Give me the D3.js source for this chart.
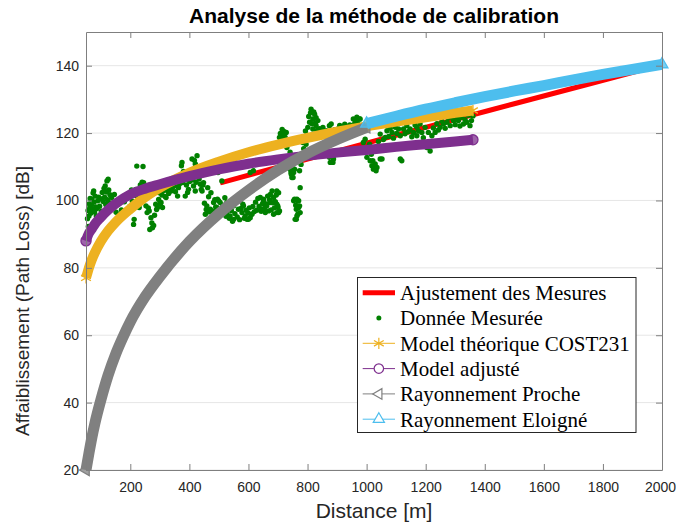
<!DOCTYPE html>
<html>
<head>
<meta charset="utf-8">
<script src="https://cdn.jsdelivr.net/npm/d3@7"></script>
<style>
  body { margin: 0; background: #fff; }
  svg { display: block; }
</style>
</head>
<body>
<svg id="chart" width="676" height="526"></svg>
<script>
// Axis ticks
const xTicks = [200, 400, 600, 800, 1000, 1200, 1400, 1600, 1800, 2000];
const yTicks = [20, 40, 60, 80, 100, 120, 140];

// Linear fit of the measurements
const fitDist = [504, 750, 1000, 1250, 1500, 1750, 2000];
const fitLoss = [105.2, 111.1, 117.0, 122.9, 128.7, 134.5, 140.3];

// COST231 theoretical model
const costDist = [50, 55, 60, 70, 80, 100, 125, 150, 200, 250, 300, 400, 500, 600, 700, 800, 900, 1000, 1100, 1200, 1300, 1360];
const costLoss = [77.0, 78.5, 80.0, 82.5, 84.5, 87.8, 91.0, 93.5, 97.5, 101.0, 103.8, 108.2, 111.5, 114.3, 116.6, 118.6, 120.4, 122.0, 123.4, 124.7, 126.0, 126.7];

// Adjusted model
const adjDist = [50, 55, 60, 70, 80, 100, 125, 150, 200, 250, 300, 400, 500, 600, 700, 800, 900, 1000, 1100, 1200, 1300, 1360];
const adjLoss = [88.0, 89.3, 90.3, 91.6, 93.0, 95.0, 97.2, 99.0, 101.8, 103.5, 104.8, 107.2, 109.2, 110.9, 112.2, 113.3, 114.2, 115.0, 115.9, 116.7, 117.5, 118.0];

// Near-field radiation
const procheDist = [50, 60, 70, 80, 100, 125, 150, 175, 200, 250, 300, 400, 500, 600, 700, 800, 900, 1000];
const procheLoss = [20.0, 25.0, 29.7, 33.8, 40.7, 48.2, 54.3, 59.4, 64.0, 71.4, 77.4, 87.8, 96.1, 103.0, 109.0, 114.0, 118.1, 121.7];

// Far-field radiation
const eloigneDist = [1000, 1100, 1200, 1300, 1400, 1500, 1600, 1700, 1800, 1900, 2000];
const eloigneLoss = [122.8, 125.0, 127.1, 129.0, 130.8, 132.5, 134.1, 135.8, 137.4, 138.9, 140.4];

// Measured path loss [distance m, loss dB]
const mesures = [
  [55,94.6],[57,97.0],[58,92.3],[60,95.4],[61,99.0],[63,97.9],[64,100.6],[66,96.2],[68,98.6],[70,100.4],
  [72,97.3],[74,102.2],[76,102.8],[77,99.5],[79,96.6],[81,101.3],[83,98.1],[85,95.4],[87,97.6],[90,99.9],
  [93,101.0],[96,98.3],[99,100.5],[102,96.8],[105,102.4],[108,99.7],[111,103.6],[113,101.0],[115,104.3],[117,98.8],
  [119,102.5],[121,105.8],[123,100.2],[125,106.3],[127,103.1],[129,99.3],[131,101.7],[134,98.6],[137,100.9],[140,97.6],
  [143,99.4],[146,101.8],
  [152,96.5],[160,94.8],[170,97.2],[180,99.6],[190,100.8],[198,98.2],[204,103.1],[207,99.8],[211,92.9],[213,94.4],
  [216,101.6],[219,103.3],[222,110.2],[223,101.3],[227,99.2],[230,97.9],[234,104.6],[238,102.4],[240,105.4],[243,110.1],
  [245,105.3],[249,100.7],[253,98.4],[257,96.4],[261,97.8],[264,96.9],[266,91.4],[270,94.9],[273,93.3],[275,91.9],
  [279,92.6],[282,95.6],[286,98.9],[289,97.3],
  [292,97.9],[296,100.3],[298,102.3],[302,99.1],[304,99.4],[307,101.6],[309,97.9],[312,102.9],[315,103.3],[318,101.2],
  [321,100.9],[324,103.0],[326,103.8],[330,102.1],[334,104.7],[338,102.8],[342,103.6],[346,105.6],[349,104.3],[353,102.6],
  [356,105.2],[360,101.3],[363,103.8],[366,104.8],[370,106.2],[373,110.3],[375,111.3],[377,105.3],[380,108.6],[383,106.7],
  [386,106.3],[386,101.3],[390,104.6],[394,102.4],[397,103.3],[401,105.6],[405,107.9],[409,112.3],[412,106.1],[414,104.3],
  [417,111.9],[420,102.8],[420,110.8],[423,105.4],[426,113.3],[430,108.7],[433,106.4],[437,104.8],[440,103.3],[443,102.8],
  [446,104.6],[448,105.3],
  [451,99.2],[454,95.9],[457,97.3],[459,98.4],[462,103.8],[465,101.1],[468,96.6],[471,97.4],[473,102.3],[476,94.4],
  [479,96.9],[482,99.4],[482,95.4],[486,100.2],[489,98.1],[493,97.9],[495,100.4],[497,108.3],[499,99.9],[504,99.4],
  [507,96.7],[510,105.8],[513,98.6],[516,97.4],[520,100.8],[524,95.3],[527,96.4],[527,99.4],[531,97.8],[535,94.7],
  [538,95.4],[542,97.0],[546,93.8],[550,94.4],[550,98.4],[554,96.1],[558,99.5],[562,95.1],[566,97.4],[570,94.3],
  [572,99.9],[575,97.6],[578,96.4],[581,98.9],[583,98.4],[586,94.7],[589,95.4],[592,97.1],[595,94.4],[598,96.3],
  [600,94.4],[603,97.8],[606,94.9],[606,108.3],[609,95.9],[612,95.9],[615,98.2],[617,108.8],[620,96.7],
  [624,99.5],[628,97.1],[632,100.6],[636,98.3],[640,100.9],[643,96.8],[645,97.4],[648,99.1],[651,99.9],[651,100.4],
  [654,97.6],[657,96.4],[660,99.0],[662,98.4],[665,101.3],[668,96.9],[671,100.2],[674,99.4],[674,101.8],[677,97.2],
  [680,102.8],[682,99.3],[685,100.9],[685,95.9],[688,97.8],[691,99.6],[694,101.6],[696,102.8],[696,98.9],[696,96.4],
  [699,98.4],[700,97.9],[702,96.4],[702,102.3],[705,96.9],[705,118.7],[708,119.9],[711,118.3],[714,121.1],[717,119.2],
  [720,120.5],[724,118.8],[728,120.2],[730,115.7],[735,117.4],
  [741,109.3],[741,114.3],[744,108.3],[745,107.8],[747,106.8],[749,110.6],[751,106.8],[753,108.3],[753,99.9],[756,109.3],
  [756,100.4],[758,94.4],[760,98.6],[762,97.4],[762,94.4],[764,95.4],[764,100.4],[767,99.9],[767,95.9],[770,97.9],
  [770,99.9],[773,98.4],[773,108.8],[775,96.4],[775,103.8],[778,110.7],[781,113.2],[784,117.2],[787,115.4],[790,118.7],
  [793,120.6],[795,116.7],[798,119.4],[801,121.7],[804,124.9],[807,123.2],[810,126.0],[812,127.1],[815,122.8],[818,124.2],
  [818,121.2],[821,126.3],[824,125.6],[827,123.0],[829,124.6],[829,122.2],[832,120.8],[835,123.7],[840,121.3],[846,119.8],
  [852,121.7],[857,120.1],[863,120.7],[863,113.7],[868,119.5],[874,122.2],[874,112.8],[877,111.3],[880,122.7],[883,120.3],
  [886,119.7],[886,111.3],[888,112.3],[892,121.0],[897,120.4],
  [903,121.2],[909,122.3],[914,120.5],[920,121.7],[926,122.6],[931,121.0],[937,120.7],[943,122.4],[948,121.3],[954,121.7],
  [955,124.2],[960,122.9],[965,123.7],[967,123.2],[967,124.7],[971,122.6],[976,124.2],[978,124.2],[983,121.6],[989,117.2],
  [995,118.2],
  [1001,112.8],[1004,115.3],[1010,116.7],[1012,111.8],[1016,113.7],[1018,110.3],[1021,111.8],[1023,109.3],[1027,110.3],[1029,110.8],
  [1032,108.8],[1035,109.8],[1040,117.5],[1046,119.7],[1046,112.3],[1052,112.3],[1057,118.1],[1063,118.7],[1069,120.7],[1075,119.0],
  [1080,121.4],[1086,120.2],[1091,118.5],[1097,121.7],[1102,119.9],[1108,121.2],[1114,119.2],[1114,112.3],[1119,111.8],[1125,121.2],
  [1130,119.8],[1136,122.2],[1141,120.4],[1147,121.2],[1153,118.9],[1159,120.2],[1164,122.4],[1170,121.7],[1170,119.2],[1176,120.6],
  [1181,122.7],[1187,120.2],[1192,118.6],[1198,121.7],[1204,115.7],[1209,120.2],[1215,114.7],[1221,119.2],[1226,121.5],[1232,120.2],
  [1238,122.8],[1243,120.9],[1249,121.7],[1255,123.5],[1260,122.7],[1266,121.4],[1272,123.2],[1277,124.5],[1283,122.2],[1289,124.8],
  [1294,123.7],[1300,122.5],[1305,124.9],[1311,123.7],[1316,122.1],[1322,124.7],[1328,122.7],[1333,124.0],[1339,123.2],[1344,125.3],
  [1350,122.2],[1355,123.7],[1360,125.1]
];

const legendLabels = [
  "Ajustement des Mesures",
  "Donnée Mesurée",
  "Model théorique COST231",
  "Model adjusté",
  "Rayonnement Proche",
  "Rayonnement Eloigné"
];

const colors = {
  fit: "#ff0000",
  data: "#008000",
  cost: "#edb120",
  adj: "#7e2f8e",
  proche: "#808080",
  eloigne: "#4dbeee"
};

const svg = d3.select("#chart");
const plotLeft = 86, plotRight = 662, plotTop = 32, plotBottom = 470;

const x = d3.scaleLinear().domain([50, 2000]).range([plotLeft, plotRight]);
const y = d3.scaleLinear().domain([20, 150]).range([plotBottom, plotTop]);

const axisColor = "#7f7f7f";
const labelColor = "#262626";
const sans = "'Liberation Sans', Arial, sans-serif";
const serif = "'Liberation Serif', 'Times New Roman', serif";

// Horizontal grid
svg.append("g")
  .selectAll("line")
  .data(yTicks)
  .join("line")
  .attr("x1", plotLeft).attr("x2", plotRight)
  .attr("y1", d => y(d)).attr("y2", d => y(d))
  .attr("stroke", "#e6e6e6").attr("stroke-width", 1);

// Series
const line = d3.line()
  .x(d => x(d[0]))
  .y(d => y(d[1]))
  .curve(d3.curveMonotoneX);

const fitPts = d3.zip(fitDist, fitLoss);
const costPts = d3.zip(costDist, costLoss);
const adjPts = d3.zip(adjDist, adjLoss);
const prochePts = d3.zip(procheDist, procheLoss);
const eloignePts = d3.zip(eloigneDist, eloigneLoss);

const plot = svg.append("g");

plot.append("path").datum(fitPts)
  .attr("d", line).attr("fill", "none")
  .attr("stroke", colors.fit).attr("stroke-width", 5);

plot.append("g").selectAll("circle")
  .data(mesures).join("circle")
  .attr("cx", d => x(d[0])).attr("cy", d => y(d[1]))
  .attr("r", 2.7).attr("fill", colors.data);

// Dense marker band: thick stroke along the curve, end markers at both ends
function band(pts, color, width, symbolType, symbolSize, rotate) {
  const g = plot.append("g");
  g.append("path").datum(pts)
    .attr("d", line).attr("fill", "none")
    .attr("stroke", color).attr("stroke-width", width)
    .attr("stroke-linejoin", "round");
  const sym = d3.symbol().type(symbolType).size(symbolSize);
  const ends = [pts[0], pts[pts.length - 1]];
  g.selectAll("path.m").data(ends).join("path")
    .attr("class", "m")
    .attr("d", sym)
    .attr("transform", d => `translate(${x(d[0])},${y(d[1])}) rotate(${rotate})`)
    .attr("fill", color).attr("fill-opacity", 0.75)
    .attr("stroke", color).attr("stroke-width", 1.3);
}

band(costPts, colors.cost, 10, d3.symbolAsterisk, 90, 0);
band(adjPts, colors.adj, 10, d3.symbolCircle, 80, 0);
band(prochePts, colors.proche, 11, d3.symbolTriangle2, 90, -90);
band(eloignePts, colors.eloigne, 11, d3.symbolTriangle2, 100, 0);

// Axes (box with inward ticks)
function styleAxis(g) {
  g.selectAll(".domain").attr("stroke", axisColor);
  g.selectAll(".tick line").attr("stroke", axisColor);
  g.selectAll(".tick text").attr("fill", labelColor)
    .style("font-family", sans).style("font-size", "14px");
}

const fmt = d3.format("d");

const xAxisG = svg.append("g").attr("transform", `translate(0,${plotBottom})`)
  .call(d3.axisBottom(x).tickValues(xTicks).tickFormat(fmt).tickSizeInner(-6).tickSizeOuter(0).tickPadding(12))
  .call(styleAxis);
// keep the last label inside the canvas
xAxisG.selectAll(".tick text").filter(d => d === 2000).attr("dx", -2);

svg.append("g").attr("transform", `translate(0,${plotTop})`)
  .call(d3.axisTop(x).tickValues(xTicks).tickSizeInner(-6).tickSizeOuter(0).tickFormat(""))
  .call(styleAxis);
svg.append("g").attr("transform", `translate(${plotLeft},0)`)
  .call(d3.axisLeft(y).tickValues(yTicks).tickFormat(fmt).tickSizeInner(-6).tickSizeOuter(0).tickPadding(7))
  .call(styleAxis);
svg.append("g").attr("transform", `translate(${plotRight},0)`)
  .call(d3.axisRight(y).tickValues(yTicks).tickSizeInner(-6).tickSizeOuter(0).tickFormat(""))
  .call(styleAxis);

// Titles
svg.append("text")
  .attr("x", (plotLeft + plotRight) / 2).attr("y", 23)
  .attr("text-anchor", "middle")
  .style("font-family", sans).style("font-size", "21px").style("font-weight", "bold")
  .attr("fill", "#000")
  .text("Analyse de la méthode de calibration");

svg.append("text")
  .attr("x", (plotLeft + plotRight) / 2).attr("y", 518)
  .attr("text-anchor", "middle")
  .style("font-family", sans).style("font-size", "21px")
  .attr("fill", labelColor)
  .text("Distance [m]");

svg.append("text")
  .attr("transform", "translate(29,301) rotate(-90)")
  .attr("text-anchor", "middle")
  .style("font-family", sans).style("font-size", "19px")
  .attr("fill", labelColor)
  .text("Affaiblissement (Path Loss) [dB]");

// Legend
const lg = svg.append("g");
lg.append("rect")
  .attr("x", 357.5).attr("y", 277.5).attr("width", 278.5).attr("height", 155)
  .attr("fill", "#fff").attr("stroke", "#262626").attr("stroke-width", 1);

const rowY = i => 292.7 + i * 25.3;
const sx1 = 362.7, sx2 = 395, sxm = (sx1 + sx2) / 2;

legendLabels.forEach((label, i) => {
  lg.append("text")
    .attr("x", 400).attr("y", rowY(i)).attr("dy", "0.35em")
    .style("font-family", serif).style("font-size", "21px")
    .attr("fill", "#000")
    .text(label);
});

lg.append("line").attr("x1", sx1).attr("x2", sx2).attr("y1", rowY(0)).attr("y2", rowY(0))
  .attr("stroke", colors.fit).attr("stroke-width", 5);
lg.append("circle").attr("cx", sxm).attr("cy", rowY(1)).attr("r", 2.5).attr("fill", colors.data);

const legendLines = [
  [2, colors.cost, d3.symbolAsterisk, 90, 0],
  [3, colors.adj, d3.symbolCircle, 70, 0],
  [4, colors.proche, d3.symbolTriangle2, 80, -90],
  [5, colors.eloigne, d3.symbolTriangle2, 90, 0]
];
legendLines.forEach(([i, c, t, s, r]) => {
  lg.append("line").attr("x1", sx1).attr("x2", sx2).attr("y1", rowY(i)).attr("y2", rowY(i))
    .attr("stroke", c).attr("stroke-width", 1);
  lg.append("path").attr("d", d3.symbol().type(t).size(s)())
    .attr("transform", `translate(${sxm},${rowY(i)}) rotate(${r})`)
    .attr("fill", "#fff").attr("stroke", c).attr("stroke-width", 1.2);
});
</script>
</body>
</html>
